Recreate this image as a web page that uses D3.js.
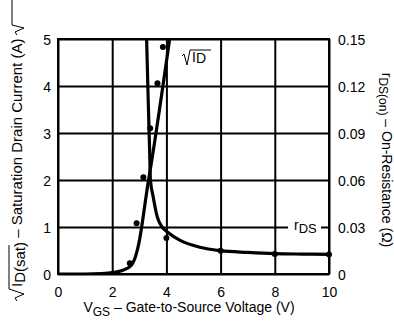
<!DOCTYPE html>
<html>
<head>
<meta charset="utf-8">
<script src="https://cdn.jsdelivr.net/npm/d3@7"></script>
<style>
  body { margin: 0; background: #fff; }
  svg { display: block; font-family: "Liberation Sans", Arial, sans-serif; }
</style>
</head>
<body>
<svg></svg>
<script>
var width = 394;
var height = 324;
var plotLeft = 58, plotRight = 329, plotTop = 39, plotBottom = 274;

// axis ticks
var xTicks = [0, 2, 4, 6, 8, 10];
var yTicks = [0, 1, 2, 3, 4, 5];
var rTicks = [0, 0.03, 0.06, 0.09, 0.12, 0.15];
var rTickLabels = ['0', '0.03', '0.06', '0.09', '0.12', '0.15'];

// sqrt(ID) curve and measured points
var idCurveV = [0, 1.0, 1.6, 2.0, 2.4, 2.7, 2.9, 3.0, 3.1, 3.2, 3.3, 3.4, 4.12];
var idCurveY = [0, 0, 0.01, 0.03, 0.08, 0.18, 0.45, 0.7, 1.05, 1.45, 1.85, 2.2, 5];
var idDotV = [2.65, 2.9, 3.15, 3.4, 3.67, 3.87];
var idDotY = [0.23, 1.08, 2.06, 3.1, 4.06, 4.83];

// rDS(on) curve and measured points
var rdsCurveV = [3.27, 3.33, 3.38, 3.41, 3.51, 3.66, 3.84, 4.06, 4.49, 5.23, 6, 7, 8, 9, 10];
var rdsCurveR = [0.15, 0.11, 0.08, 0.06, 0.0495, 0.0366, 0.03, 0.0265, 0.0216, 0.0171, 0.0149, 0.0138, 0.013, 0.0127, 0.0125];
var rdsDotV = [4, 6, 8, 10];
var rdsDotR = [0.023, 0.0148, 0.0128, 0.0125];

var xScale = d3.scaleLinear().domain([0, 10]).range([plotLeft, plotRight]);
var yScale = d3.scaleLinear().domain([0, 5]).range([plotBottom, plotTop]);
var rScale = d3.scaleLinear().domain([0, 0.15]).range([plotBottom, plotTop]);

var svg = d3.select('svg')
    .attr('width', width)
    .attr('height', height);

// vertical grid + x tick labels
var xAxis = d3.axisBottom(xScale)
    .tickValues(xTicks)
    .tickSize(-(plotBottom - plotTop))
    .tickFormat(d3.format('d'));
var gx = svg.append('g')
    .attr('transform', 'translate(0,' + plotBottom + ')')
    .call(xAxis);
gx.select('.domain').remove();
gx.selectAll('line').attr('stroke', '#000').attr('stroke-width', 2);
gx.selectAll('text')
    .attr('y', 23).attr('dy', null)
    .attr('fill', '#000').style('font-size', '14px');

// horizontal grid + left tick labels
var yAxis = d3.axisLeft(yScale)
    .tickValues(yTicks)
    .tickSize(-(plotRight - plotLeft))
    .tickFormat(d3.format('d'));
var gy = svg.append('g')
    .attr('transform', 'translate(' + plotLeft + ',0)')
    .call(yAxis);
gy.select('.domain').remove();
gy.selectAll('line').attr('stroke', '#000').attr('stroke-width', 2);
gy.selectAll('text')
    .attr('x', -7).attr('dy', '0.36em')
    .attr('fill', '#000').style('font-size', '14px');

// right tick labels
var rAxis = d3.axisRight(rScale)
    .tickValues(rTicks)
    .tickSize(0)
    .tickFormat((d, i) => rTickLabels[i]);
var gr = svg.append('g')
    .attr('transform', 'translate(' + plotRight + ',0)')
    .call(rAxis);
gr.select('.domain').remove();
gr.selectAll('text')
    .attr('x', 9).attr('dy', '0.36em')
    .attr('fill', '#000').style('font-size', '14px');

// frame
svg.append('rect')
    .attr('x', plotLeft).attr('y', plotTop)
    .attr('width', plotRight - plotLeft).attr('height', plotBottom - plotTop)
    .attr('fill', 'none').attr('stroke', '#000').attr('stroke-width', 2);

// rDS label on the 0.03 gridline
svg.append('rect')
    .attr('x', 288).attr('y', rScale(0.03) - 8)
    .attr('width', 33).attr('height', 16)
    .attr('fill', '#fff');
var rLab = svg.append('text')
    .attr('x', 294).attr('y', rScale(0.03) + 3)
    .style('font-size', '14px');
rLab.append('tspan').text('r');
rLab.append('tspan').attr('dy', 3).style('font-size', '13px').text('DS');

// curves
svg.append('clipPath').attr('id', 'plot')
  .append('rect')
    .attr('x', plotLeft).attr('y', plotTop)
    .attr('width', plotRight - plotLeft).attr('height', plotBottom - plotTop);

var line = d3.line().curve(d3.curveMonotoneX);

svg.append('path')
    .attr('clip-path', 'url(#plot)')
    .attr('d', line(idCurveV.map((v, i) => [xScale(v), yScale(idCurveY[i])])))
    .attr('fill', 'none').attr('stroke', '#000')
    .attr('stroke-width', 3.2).attr('stroke-linejoin', 'round');

svg.append('path')
    .attr('clip-path', 'url(#plot)')
    .attr('d', line(rdsCurveV.map((v, i) => [xScale(v), rScale(rdsCurveR[i])])))
    .attr('fill', 'none').attr('stroke', '#000')
    .attr('stroke-width', 3.2).attr('stroke-linejoin', 'round');

svg.selectAll('circle.id')
    .data(idDotV)
    .enter()
  .append('circle')
    .attr('class', 'id')
    .attr('cx', d => xScale(d))
    .attr('cy', (d, i) => yScale(idDotY[i]))
    .attr('r', 3)
    .attr('fill', '#000');

svg.selectAll('circle.rds')
    .data(rdsDotV)
    .enter()
  .append('circle')
    .attr('class', 'rds')
    .attr('cx', d => xScale(d))
    .attr('cy', (d, i) => rScale(rdsDotR[i]))
    .attr('r', 3)
    .attr('fill', '#000');

// sqrt(ID) label inside plot
svg.append('path')
    .attr('d', 'M182,56 L184,54 L187,65 L190,50 L211,50')
    .attr('fill', 'none').attr('stroke', '#000').attr('stroke-width', 1);
var idLab = svg.append('text')
    .attr('x', 192).attr('y', 62)
    .style('font-size', '14px');
idLab.append('tspan').text('I');
idLab.append('tspan').attr('dy', 1).text('D');

// x axis title
var xt = svg.append('text')
    .attr('x', 189).attr('y', 312)
    .style('text-anchor', 'middle')
    .style('font-size', '14px');
xt.append('tspan').text('V');
xt.append('tspan').attr('dy', 4).style('font-size', '12px').text('GS');
xt.append('tspan').attr('dy', -4).text(' \u2013 Gate-to-Source Voltage (V)');

// left axis title (rotated)
var gl = svg.append('g')
    .attr('transform', 'translate(22,287) rotate(-90)');
gl.append('path')
    .attr('d', 'M-14,-5 L-11,-7 L-7,2 L-2,-13 L42,-13')
    .attr('fill', 'none').attr('stroke', '#000').attr('stroke-width', 1);
var lt = gl.append('text')
    .attr('x', 0).attr('y', 0)
    .style('font-size', '15px');
lt.append('tspan').text('I');
lt.append('tspan').attr('dy', 3).text('D(sat)');
lt.append('tspan').attr('dy', -3).text(' \u2013 Saturation Drain Current (A)');
gl.append('path')
    .attr('d', 'M252,-5 L255,-7 L259,2 L262,-10 L287,-10')
    .attr('fill', 'none').attr('stroke', '#000').attr('stroke-width', 1);

// right axis title (rotated)
var rt = svg.append('text')
    .attr('transform', 'translate(382,160) rotate(90)')
    .style('text-anchor', 'middle')
    .style('font-size', '14px');
rt.append('tspan').text('r');
rt.append('tspan').attr('dy', 3).style('font-size', '12px').text('DS(on)');
rt.append('tspan').attr('dy', -3).text(' \u2013 On-Resistance (\u03A9)');
</script>
</body>
</html>
